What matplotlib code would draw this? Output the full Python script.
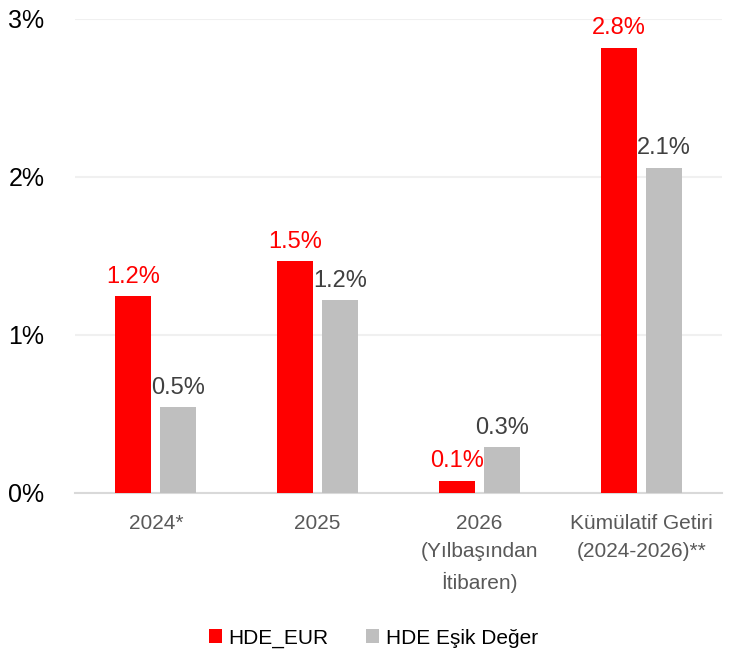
import numpy as np
import matplotlib.pyplot as plt

plt.rcParams["font.family"] = ["Liberation Sans", "DejaVu Sans"]

categories = ["2024*", "2025", "2026\n(Yılbaşından\nİtibaren)", "Kümülatif Getiri\n(2024-2026)**"]
hde_eur = [1.245, 1.465, 0.076, 2.816]
esik = [0.54, 1.22, 0.287, 2.057]
series_names = ["HDE_EUR", "HDE Eşik Değer"]

fig = plt.figure(figsize=(7.39, 6.6), dpi=100)
ax = fig.add_axes([0.1015, 0.2535, 0.8755, 0.7182])

x = np.arange(len(categories))
w = 0.222
off = 0.139
b1 = ax.bar(x - off, hde_eur, w, color="#FF0000", label=series_names[0], zorder=3)
b2 = ax.bar(x + off, esik, w, color="#BFBFBF", label=series_names[1], zorder=3)

for rect, v in zip(b1, hde_eur):
    ax.annotate(f"{v:.1f}%", (rect.get_x() + rect.get_width() / 2, v),
                xytext=(0, 6), textcoords="offset points", ha="center", va="bottom",
                color="#FF0000", fontsize=17)
for rect, v in zip(b2, esik):
    ax.annotate(f"{v:.1f}%", (rect.get_x() + rect.get_width() / 2, v),
                xytext=(0, 6), textcoords="offset points", ha="center", va="bottom",
                color="#404040", fontsize=17)

ax.set_xlim(-0.5, len(categories) - 0.5)
ax.set_ylim(0, 3)
ax.set_yticks([0, 1, 2, 3])
ax.set_yticklabels(["0%", "1%", "2%", "3%"], fontsize=18, color="#000000")
ax.set_xticks(x)
ax.set_xticklabels(categories, fontsize=15, color="#595959", linespacing=1.65)
ax.tick_params(axis="both", length=0)
ax.tick_params(axis="y", pad=22)
ax.tick_params(axis="x", pad=15)

ax.grid(axis="y", color="#F0F0F0", linewidth=1.5, zorder=0)
for s in ["top", "right", "left"]:
    ax.spines[s].set_visible(False)
ax.spines["bottom"].set_color("#D9D9D9")
ax.spines["bottom"].set_linewidth(1.5)

fig.legend(loc="center", bbox_to_anchor=(0.505, 0.033), ncol=2, frameon=False,
           fontsize=15, handlelength=0.65, handleheight=0.65, handletextpad=0.3,
           columnspacing=1.8)

fig.savefig("out.png", dpi=100)
